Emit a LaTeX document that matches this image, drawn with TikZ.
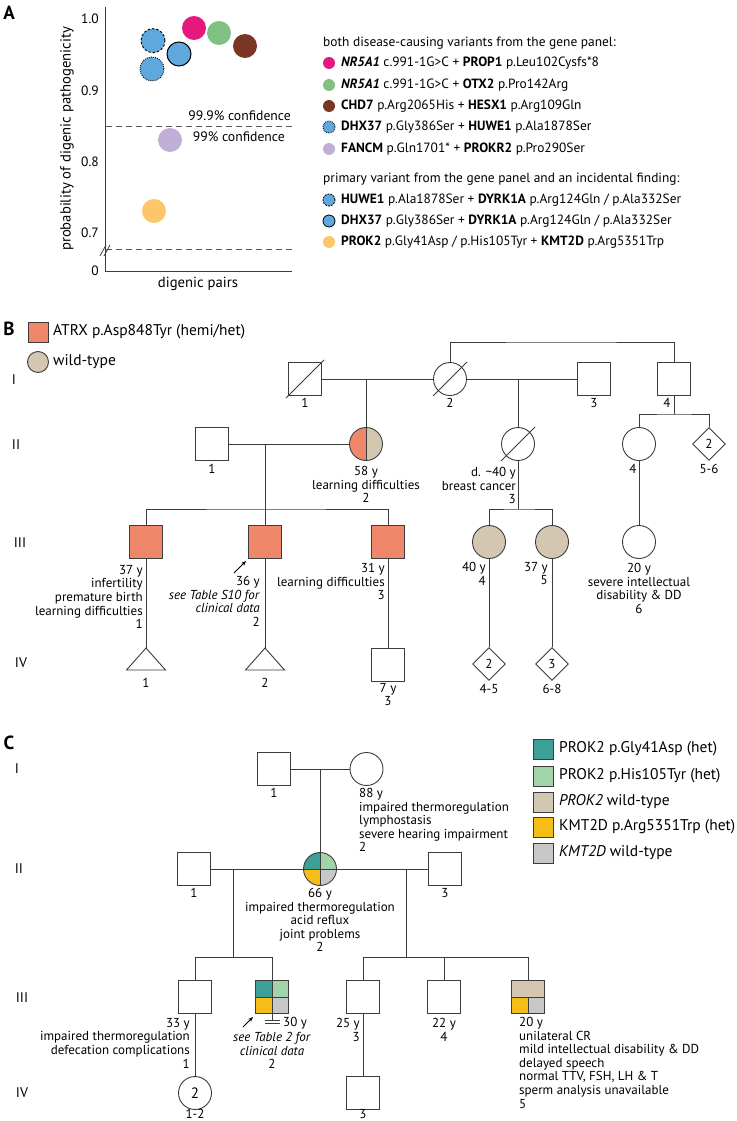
\documentclass[tikz,border=0pt]{standalone}
\usepackage{fontspec}
\setmainfont{PT Sans}
\usetikzlibrary{shapes.geometric,arrows.meta}
\definecolor{lc}{HTML}{3C3C3C}
\definecolor{cpink}{HTML}{E5187E}
\definecolor{cgreen}{HTML}{80C080}
\definecolor{cbrown}{HTML}{7B3525}
\definecolor{cblue}{HTML}{5FA8DD}
\definecolor{clav}{HTML}{C0AED6}
\definecolor{corange}{HTML}{FDC66A}
\definecolor{catrx}{HTML}{EF876A}
\definecolor{cwt}{HTML}{D3C7B1}
\definecolor{cteal}{HTML}{3E9E98}
\definecolor{clgreen}{HTML}{A1D4A9}
\definecolor{cyel}{HTML}{F5BD17}
\definecolor{cgrey}{HTML}{C7C7C7}
\definecolor{cdash}{HTML}{5A5A5A}
\newcommand{\fsz}[1]{\fontsize{#1}{13.6}\selectfont}
\begin{document}
\begin{tikzpicture}[x=1pt,y=-1pt,
 ln/.style={draw=lc,line width=0.9pt},
 sq/.style={rectangle,draw=lc,line width=0.9pt,minimum size=33pt,inner sep=0pt,fill=white},
 ci/.style={circle,draw=lc,line width=0.9pt,minimum size=33pt,inner sep=0pt,fill=white},
 di/.style={diamond,draw=lc,line width=0.9pt,minimum size=33pt,inner sep=0pt,fill=white,font=\fsz{13}},
 t/.style={inner sep=0pt,font=\fsz{13}},
 tl/.style={t,align=left,anchor=north west},
 tr/.style={t,align=right,anchor=north east},
 tc/.style={t,align=center,anchor=north},
 pl/.style={inner sep=0pt,font=\bfseries\fsz{19}},
 gen/.style={inner sep=0pt,font=\fsz{14}},
 lg/.style={inner sep=0pt,anchor=west,font=\fsz{15.5}},
 lga/.style={inner sep=0pt,anchor=west,font=\fsz{13.4}},
 tick/.style={inner sep=0pt,anchor=east,font=\fsz{13.5}},
 ax/.style={inner sep=0pt,font=\fsz{14.7}},
 conf/.style={inner sep=0pt,anchor=east,font=\fsz{13.7}},
 dsh/.style={draw=cdash,line width=0.9pt,dash pattern=on 6pt off 4pt},
 dot/.style={circle,minimum size=24pt,inner sep=0pt},
 ldot/.style={circle,minimum size=12pt,inner sep=0pt},
 lsq/.style={rectangle,draw=lc,line width=0.9pt,minimum size=20pt,inner sep=0pt},
 slash/.style={draw=lc,line width=0.9pt},
 arr/.style={draw=black,line width=0.8pt,-{Stealth[length=5pt,width=4pt]}}
]
\fill[white] (0,0) rectangle (736,1121);
\useasboundingbox (0,0) rectangle (736,1121);

% ================= PANEL A =================
\node[pl] (lA) at (9,13) {A};
\coordinate (axT) at (105.5,7);
\coordinate (axO) at (105.5,271);
\coordinate (axR) at (292,271);
\draw[draw=lc,line width=0.9pt] (axT) -- (axO) -- (axR);
\node[tick] (t10) at (99,19) {1.0};
\node[tick] (t09) at (99,90.3) {0.9};
\node[tick] (t08) at (99,161.7) {0.8};
\node[tick] (t07) at (99,232.7) {0.7};
\node[tick] (t00) at (99,271) {0};
\node[ax,rotate=90] (ylab) at (67,139) {probability of digenic pathogenicity};
\node[ax] (xlab) at (198,284) {digenic pairs};
\coordinate (d1a) at (105.5,126); \coordinate (d1b) at (292,126);
\coordinate (d2a) at (105.5,249); \coordinate (d2b) at (292,249);
\draw[dsh] (d1a) -- (d1b);
\draw[dsh] (d2a) -- (d2b);
\node[conf] (c999) at (291,116) {99.9\% confidence};
\node[conf] (c99) at (285,137) {99\% confidence};
\coordinate (br1a) at (100,256); \coordinate (br1b) at (106,245);
\coordinate (br2a) at (104,256); \coordinate (br2b) at (110,245);
\draw[draw=lc,line width=0.8pt] (br1a) -- (br1b);
\draw[draw=lc,line width=0.8pt] (br2a) -- (br2b);
% data points
\node[dot,fill=cblue,draw=black,line width=0.9pt,dash pattern=on 2.5pt off 1.8pt] (pHD) at (153,40.7) {};
\node[dot,fill=cblue,draw=black,line width=0.9pt,dash pattern=on 0.9pt off 1.2pt] (pDH) at (152,69) {};
\node[dot,fill=cblue,draw=black,line width=1pt] (pDD) at (179,54) {};
\node[dot,fill=cpink] (pNP) at (194,28) {};
\node[dot,fill=cgreen] (pNO) at (219,33) {};
\node[dot,fill=cbrown] (pCH) at (245,46) {};
\node[dot,fill=clav] (pFP) at (170,140) {};
\node[dot,fill=corange] (pPK) at (154,211) {};
% legend A
\node[lga] (hA1) at (323,43) {both disease-causing variants from the gene panel:};
\node[ldot,fill=cpink] (lA1) at (329,63) {};
\node[lga] (tA1) at (341,63) {\textbf{\textit{NR5A1}} c.991-1G>C + \textbf{PROP1} p.Leu102Cysfs*8};
\node[ldot,fill=cgreen] (lA2) at (329,85) {};
\node[lga] (tA2) at (341,85) {\textbf{\textit{NR5A1}} c.991-1G>C + \textbf{OTX2} p.Pro142Arg};
\node[ldot,fill=cbrown] (lA3) at (329,106) {};
\node[lga] (tA3) at (341,106) {\textbf{CHD7} p.Arg2065His + \textbf{HESX1} p.Arg109Gln};
\node[ldot,fill=cblue,draw=black,line width=0.8pt,dash pattern=on 0.8pt off 1pt] (lA4) at (329,127) {};
\node[lga] (tA4) at (341,127) {\textbf{DHX37} p.Gly386Ser + \textbf{HUWE1} p.Ala1878Ser};
\node[ldot,fill=clav] (lA5) at (329,149) {};
\node[lga] (tA5) at (341,149) {\textbf{FANCM} p.Gln1701* + \textbf{PROKR2} p.Pro290Ser};
\node[lga] (hA2) at (323,179) {primary variant from the gene panel and an incidental finding:};
\node[ldot,fill=cblue,draw=black,line width=0.8pt,dash pattern=on 2pt off 1pt] (lA6) at (329,200) {};
\node[lga] (tA6) at (341,200) {\textbf{HUWE1} p.Ala1878Ser + \textbf{DYRK1A} p.Arg124Gln / p.Ala332Ser};
\node[ldot,fill=cblue,draw=black,line width=0.8pt] (lA7) at (329,221) {};
\node[lga] (tA7) at (341,221) {\textbf{DHX37} p.Gly386Ser + \textbf{DYRK1A} p.Arg124Gln / p.Ala332Ser};
\node[ldot,fill=corange] (lA8) at (329,242) {};
\node[lga] (tA8) at (341,242) {\textbf{PROK2} p.Gly41Asp / p.His105Tyr + \textbf{KMT2D} p.Arg5351Trp};

% ================= PANEL B =================
\node[pl] (lB) at (9,329) {B};
\node[lsq,fill=catrx] (lgB1) at (38,332) {};
\node[lg] (lgB1t) at (53,332) {ATRX p.Asp848Tyr (hemi/het)};
\node[circle,draw=lc,line width=0.9pt,minimum size=21pt,inner sep=0pt,fill=cwt] (lgB2) at (38,362) {};
\node[lg] (lgB2t) at (53,362) {wild-type};
\node[gen] (gB1) at (14,380) {I};
\node[gen] (gB2) at (16,445) {II};
\node[gen] (gB3) at (20,543) {III};
\node[gen] (gB4) at (21,663) {IV};

% generation I
\node[sq] (b11) at (305,379) {};
\node[ci] (b12) at (450,379) {};
\node[sq] (b13) at (594,379) {};
\node[sq] (b14) at (674,379) {};
\draw[slash] ([shift={(-19,19)}]b11.center) -- ([shift={(19,-19)}]b11.center);
\draw[slash] ([shift={(-17,17)}]b12.center) -- ([shift={(17,-17)}]b12.center);
\node[t] (b11l) at (305,403) {1};
\node[t] (b12l) at (450,403) {2};
\node[t] (b13l) at (594,403) {3};
\node[t] (b14l) at (667,403) {4};
% generation II
\node[sq] (b21) at (212,444) {};
\node[ci,path picture={
  \fill[catrx] (path picture bounding box.south west) rectangle (path picture bounding box.north);
  \fill[cwt] (path picture bounding box.south) rectangle (path picture bounding box.north east);
  \draw[lc,line width=0.9pt] (path picture bounding box.north) -- (path picture bounding box.south);}] (b22) at (366,444) {};
\node[ci] (b23) at (518,444) {};
\draw[slash] ([shift={(-17,17)}]b23.center) -- ([shift={(17,-17)}]b23.center);
\node[ci] (b24) at (639,444) {};
\node[di] (b25) at (709,444) {2};
\node[t] (b21l) at (212,469) {1};
\node[tc] (b22l) at (366,466) {58 y\\learning difficulties\\2};
\node[tr] (b23l) at (516,467) {d. \textasciitilde40 y\\breast cancer\\3};
\node[t] (b24l) at (633,469) {4};
\node[t] (b25l) at (709,469) {5-6};
% generation III
\node[sq,fill=catrx] (b31) at (146,542) {};
\node[sq,fill=catrx] (b32) at (265,542) {};
\node[sq,fill=catrx] (b33) at (388,542) {};
\node[ci,fill=cwt] (b34) at (489,542) {};
\node[ci,fill=cwt] (b35) at (552,542) {};
\node[ci] (b36) at (639,542) {};
\node[tr] (b31l) at (143,565) {37 y\\infertility\\premature birth\\learning difficulties\\1};
\node[tr] (b32l) at (260,576) {36 y\\\textit{see Table S10 for}\\\textit{clinical data}\\2};
\node[tr] (b33l) at (385,563) {31 y\\learning difficulties\\3};
\node[tr] (b34l) at (486,562) {40 y\\4};
\node[tr] (b35l) at (548,562) {37 y\\5};
\node[tc] (b36l) at (639,563) {20 y\\severe intellectual\\disability \& DD\\6};
\coordinate (a1t) at (234,573); \coordinate (a1h) at (246,561);
\draw[arr] (a1t) -- (a1h);
% generation IV
\coordinate (b41) at (146,648);
\coordinate (b42) at (265,648);
\draw[ln] (b41) -- ++(19.5,22) -- ++(-39,0) -- cycle;
\draw[ln] (b42) -- ++(19.5,22) -- ++(-39,0) -- cycle;
\node[sq] (b43) at (388,665) {};
\node[di] (b44) at (489,664) {2};
\node[di] (b45) at (552,664) {3};
\node[t] (b41l) at (146,683) {1};
\node[t] (b42l) at (265,683) {2};
\node[tc] (b43l) at (388,683) {7 y\\3};
\node[t] (b44l) at (489,689) {4-5};
\node[t] (b45l) at (552,689) {6-8};
% connectors B
\coordinate (m1) at (366,379);
\coordinate (m2) at (518,379);
\coordinate (s1) at (560,342);
\coordinate (s2) at (674,414);
\coordinate (m3) at (265,444);
\coordinate (s3) at (265,509);
\coordinate (s4) at (518,509);
\draw[ln] (b11.east) -- (b12.west);
\draw[ln] (b12.east) -- (b13.west);
\draw[ln] (m1) -- (b22.north);
\draw[ln] (m2) -- (b23.north);
\draw[ln] (b12.north) |- (s1) -| (b14.north);
\draw[ln] (b14.south) -- (s2);
\draw[ln] (b24.north) |- (s2) -| (b25.north);
\draw[ln] (b21.east) -- (b22.west);
\draw[ln] (m3) -- (b32.north);
\draw[ln] (b31.north) |- (s3) -| (b33.north);
\draw[ln] (b23.south) -- (s4);
\draw[ln] (b34.north) |- (s4) -| (b35.north);
\draw[ln] (b24.south) -- (b36.north);
\draw[ln] (b31.south) -- (b41);
\draw[ln] (b32.south) -- (b42);
\draw[ln] (b33.south) -- (b43.north);
\draw[ln] (b34.south) -- (b44.north);
\draw[ln] (b35.south) -- (b45.north);

% ================= PANEL C =================
\node[pl] (lC) at (9,743) {C};
\node[lsq,fill=cteal] (lgC1) at (543,749) {};
\node[lg] (lgC1t) at (559,749) {PROK2 p.Gly41Asp (het)};
\node[lsq,fill=clgreen] (lgC2) at (543,776) {};
\node[lg] (lgC2t) at (559,776) {PROK2 p.His105Tyr (het)};
\node[lsq,fill=cwt] (lgC3) at (543,802) {};
\node[lg] (lgC3t) at (559,802) {\textit{PROK2} wild-type};
\node[lsq,fill=cyel] (lgC4) at (543,827) {};
\node[lg] (lgC4t) at (559,827) {KMT2D p.Arg5351Trp (het)};
\node[lsq,fill=cgrey] (lgC5) at (543,853) {};
\node[lg] (lgC5t) at (559,853) {\textit{KMT2D} wild-type};
\node[gen] (gC1) at (17,769) {I};
\node[gen] (gC2) at (19,869) {II};
\node[gen] (gC3) at (22,998) {III};
\node[gen] (gC4) at (22,1093) {IV};
% generation I
\node[sq] (c11) at (274,769) {};
\node[ci] (c12) at (366.5,769) {};
\node[t] (c11l) at (274,793) {1};
\node[tl] (c12l) at (359,788) {88 y\\impaired thermoregulation\\lymphostasis\\severe hearing impairment\\2};
% generation II
\node[sq] (c21) at (194,869) {};
\node[ci,path picture={
  \fill[cteal] (path picture bounding box.center) rectangle (path picture bounding box.north west);
  \fill[clgreen] (path picture bounding box.center) rectangle (path picture bounding box.north east);
  \fill[cyel] (path picture bounding box.center) rectangle (path picture bounding box.south west);
  \fill[cgrey] (path picture bounding box.center) rectangle (path picture bounding box.south east);
  \draw[lc,line width=0.9pt] (path picture bounding box.north) -- (path picture bounding box.south);
  \draw[lc,line width=0.9pt] (path picture bounding box.west) -- (path picture bounding box.east);}] (c22) at (320,869) {};
\node[sq] (c23) at (445,869) {};
\node[t] (c21l) at (194,893) {1};
\node[t] (c23l) at (445,893) {3};
\node[tc] (c22l) at (320,888) {66 y\\impaired thermoregulation\\acid reflux\\joint problems\\2};
% generation III
\node[sq] (c31) at (195,997) {};
\node[sq,path picture={
  \fill[cteal] (path picture bounding box.center) rectangle (path picture bounding box.north west);
  \fill[clgreen] (path picture bounding box.center) rectangle (path picture bounding box.north east);
  \fill[cyel] (path picture bounding box.center) rectangle (path picture bounding box.south west);
  \fill[cgrey] (path picture bounding box.center) rectangle (path picture bounding box.south east);
  \draw[lc,line width=0.9pt] (path picture bounding box.north) -- (path picture bounding box.south);
  \draw[lc,line width=0.9pt] (path picture bounding box.west) -- (path picture bounding box.east);}] (c32) at (272,997) {};
\node[sq] (c33) at (363,997) {};
\node[sq] (c34) at (444,997) {};
\node[sq,path picture={
  \fill[cwt] (path picture bounding box.west) rectangle (path picture bounding box.north east);
  \fill[cyel] (path picture bounding box.center) rectangle (path picture bounding box.south west);
  \fill[cgrey] (path picture bounding box.center) rectangle (path picture bounding box.south east);
  \draw[lc,line width=0.9pt] (path picture bounding box.center) -- (path picture bounding box.south);
  \draw[lc,line width=0.9pt] (path picture bounding box.west) -- (path picture bounding box.east);}] (c35) at (528,997) {};
\node[tr] (c31l) at (190,1018) {33 y\\impaired thermoregulation\\defecation complications\\1};
\coordinate (a2t) at (243,1027); \coordinate (a2h) at (253,1017);
\draw[arr] (a2t) -- (a2h);
\coordinate (inf1) at (272,1020.5);
\coordinate (infL1) at (265,1020.5); \coordinate (infR1) at (280,1020.5);
\coordinate (infL2) at (265,1023.5); \coordinate (infR2) at (280,1023.5);
\draw[ln] (c32.south) -- (inf1);
\draw[draw=lc,line width=0.8pt] (infL1) -- (infR1);
\draw[draw=lc,line width=0.8pt] (infL2) -- (infR2);
\node[t,anchor=west] (c32a) at (283,1023) {30 y};
\node[tc] (c32l) at (272,1032) {\textit{see Table 2 for}\\\textit{clinical data}\\2};
\node[tr] (c33l) at (360,1018) {25 y\\3};
\node[tc] (c34l) at (444,1018) {22 y\\4};
\node[tl] (c35l) at (519,1017) {20 y\\unilateral CR\\mild intellectual disability \& DD\\delayed speech\\normal TTV, FSH, LH \& T\\sperm analysis unavailable\\5};
% generation IV
\node[ci,font=\fsz{15}] (c41) at (195,1093) {2};
\node[sq] (c43) at (363,1093) {};
\node[t] (c41l) at (195,1114) {1-2};
\node[t] (c43l) at (363,1114) {3};
% connectors C
\coordinate (n1) at (320,769);
\coordinate (n2) at (233,869);
\coordinate (t1) at (233,957);
\coordinate (n3) at (406,869);
\coordinate (t2) at (406,957);
\draw[ln] (c11.east) -- (c12.west);
\draw[ln] (n1) -- (c22.north);
\draw[ln] (c21.east) -- (c22.west);
\draw[ln] (c22.east) -- (c23.west);
\draw[ln] (n2) -- (t1);
\draw[ln] (c31.north) |- (t1) -| (c32.north);
\draw[ln] (n3) -- (t2);
\draw[ln] (c33.north) |- (t2) -| (c35.north);
\draw[ln] (c34.north) -- (c34.north |- t2);
\draw[ln] (c31.south) -- (c41.north);
\draw[ln] (c33.south) -- (c43.north);
\end{tikzpicture}
\end{document}
